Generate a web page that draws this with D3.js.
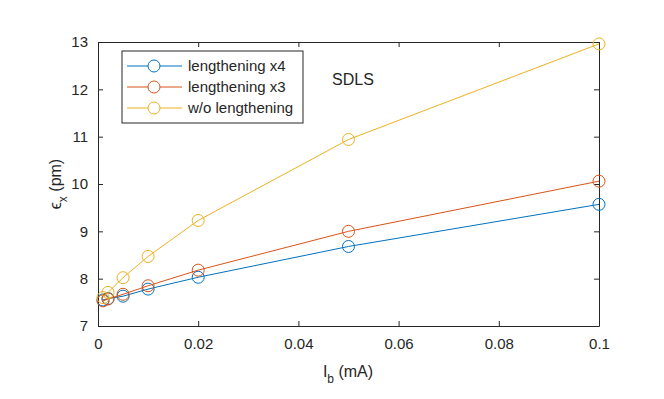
<!DOCTYPE html>
<html>
<head>
<meta charset="utf-8">
<script src="https://cdn.jsdelivr.net/npm/d3@7"></script>
<style>
  body { margin: 0; background: #fff; }
  text { font-family: "Liberation Sans", Arial, sans-serif; fill: #262626; }
</style>
</head>
<body>
<script>
let corrientes = [0.001, 0.002, 0.005, 0.01, 0.02, 0.05, 0.1];
let largoX4 = [7.55, 7.58, 7.63, 7.78, 8.03, 8.68, 9.57];
let largoX3 = [7.53, 7.57, 7.67, 7.85, 8.18, 9.0, 10.06];
let sinLargo = [7.6, 7.71, 8.02, 8.47, 9.23, 10.94, 12.96];
let nombres = ["lengthening x4", "lengthening x3", "w/o lengthening"];
let colores = ["#0072BD", "#D95319", "#EDB120"];
let ticksX = [0, 0.02, 0.04, 0.06, 0.08, 0.1];
let ticksY = [7, 8, 9, 10, 11, 12, 13];

function graficar() {
  let w = 664;
  let h = 399;
  let m = { left: 98, right: 65, top: 42, bottom: 73 };

  let svg = d3.select("body").append("svg").attr("width", w).attr("height", h);

  let x = d3.scaleLinear().domain([0, 0.1]).range([m.left, w - m.right]);
  let y = d3.scaleLinear().domain([7, 13]).range([h - m.bottom, m.top]);

  let series = [largoX4, largoX3, sinLargo];

  // ejes con marcas hacia dentro
  let ejeX = svg.append("g").attr("transform", "translate(0," + (h - m.bottom) + ")")
    .call(d3.axisBottom(x).tickValues(ticksX).tickSizeInner(-5).tickSizeOuter(0).tickPadding(12)
      .tickFormat(d => String(+d.toFixed(2))));
  let ejeY = svg.append("g").attr("transform", "translate(" + m.left + ",0)")
    .call(d3.axisLeft(y).tickValues(ticksY).tickSizeInner(-5).tickSizeOuter(0).tickPadding(10)
      .tickFormat(d3.format("d")));
  let ejeTop = svg.append("g").attr("transform", "translate(0," + m.top + ")")
    .call(d3.axisTop(x).tickValues(ticksX).tickSizeInner(-5).tickSizeOuter(0).tickFormat(""));
  let ejeDer = svg.append("g").attr("transform", "translate(" + (w - m.right) + ",0)")
    .call(d3.axisRight(y).tickValues(ticksY).tickSizeInner(-5).tickSizeOuter(0).tickFormat(""));

  [ejeX, ejeY, ejeTop, ejeDer].forEach(function (g) {
    g.selectAll("path, line").attr("stroke", "#262626").attr("stroke-width", 1);
    g.selectAll("text").style("font-size", "15px").attr("fill", "#262626");
  });

  let linea = d3.line().x((d, i) => x(corrientes[i])).y(d => y(d));

  series.forEach(function (s, k) {
    svg.append("path").datum(s).attr("d", linea)
      .attr("fill", "none").attr("stroke", colores[k]).attr("stroke-width", 1);
    svg.selectAll(".p" + k).data(s).enter().append("circle")
      .attr("cx", (d, i) => x(corrientes[i]))
      .attr("cy", d => y(d))
      .attr("r", 6)
      .attr("fill", "none")
      .attr("stroke", colores[k])
      .attr("stroke-width", 1);
  });

  // leyenda
  let ley = svg.append("g").attr("transform", "translate(122,51)");
  ley.append("rect").attr("width", 181).attr("height", 72)
    .attr("fill", "#fff").attr("stroke", "#262626").attr("stroke-width", 1);
  nombres.forEach(function (n, k) {
    let yy = 15 + k * 21;
    ley.append("line").attr("x1", 5).attr("x2", 60).attr("y1", yy).attr("y2", yy)
      .attr("stroke", colores[k]).attr("stroke-width", 1);
    ley.append("circle").attr("cx", 32).attr("cy", yy).attr("r", 6)
      .attr("fill", "#fff").attr("stroke", colores[k]).attr("stroke-width", 1);
    ley.append("text").attr("x", 66).attr("y", yy + 5).text(n).style("font-size", "15px");
  });

  svg.append("text").attr("x", 332).attr("y", 85).text("SDLS").style("font-size", "16px");

  // etiquetas de ejes
  let tx = svg.append("text").attr("x", 348).attr("y", 377).attr("text-anchor", "middle")
    .style("font-size", "16px");
  tx.append("tspan").text("I");
  tx.append("tspan").attr("dy", 6).style("font-size", "12px").text("b");
  tx.append("tspan").attr("dy", -6).text(" (mA)");

  let ty = svg.append("text").attr("transform", "translate(61,184) rotate(-90)")
    .attr("text-anchor", "middle").style("font-size", "16px");
  ty.append("tspan").text("\u03F5");
  ty.append("tspan").attr("dy", 6).style("font-size", "12px").text("x");
  ty.append("tspan").attr("dy", -6).text(" (pm)");
}

graficar();
</script>
</body>
</html>
